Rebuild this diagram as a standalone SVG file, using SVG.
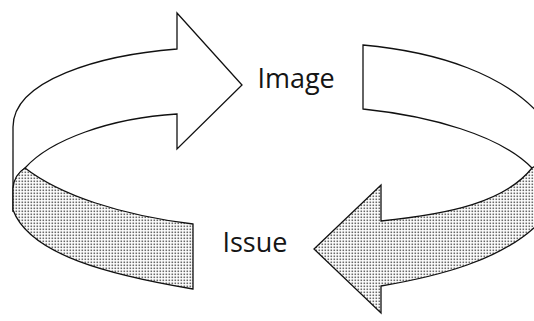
<svg xmlns="http://www.w3.org/2000/svg" width="534" height="321" viewBox="0 0 534 321">
  <defs>
    <!-- stippled screen used for the outer face of the band -->
    <pattern id="stipple" width="3" height="3" patternUnits="userSpaceOnUse">
      <rect width="3" height="3" fill="#ffffff"/>
      <rect x="0.5" y="0.5" width="1.6" height="1.6" fill="#6a6a6a"/>
    </pattern>
  </defs>
  <style>
    .band { stroke: #111; stroke-width: 1.3; stroke-linejoin: miter; }
    .inner { fill: #ffffff; }
    .outer { fill: url(#stipple); }
    .label { font-family: "Open Sans", "Liberation Sans", sans-serif; font-size: 27px; fill: #151515; }
  </style>

  <rect width="534" height="321" fill="#ffffff"/>

  <g id="connectors">
    <!-- far side of the band: white arrow pointing right -->
    <path id="arrow-top" class="band inner"
          d="M13,212 L13,127 C13,80 100,55 177,49 L177,13 L242,85 L177,149 L177,114 C110,118 50,140 25,168 Q14,176 13,190 Z"/>
    <!-- far side tail on the right -->
    <path id="tail-right" class="band inner"
          d="M363,45 C440,52 505,75 541,116 L545,172 L532,168 C500,135 430,116 363,109 Z"/>
    <!-- near side of the band, left part -->
    <path id="band-left" class="band outer"
          d="M25,168 C60,195 120,215 193,224 L193,289 C110,275 30,255 13,210 L13,188 Q14,175 25,168 Z"/>
    <!-- near side of the band: stippled arrow pointing left -->
    <path id="arrow-bottom" class="band outer"
          d="M545,160 L532,168 C505,202 450,214 381,221 L381,185 L314,249 L381,313 L381,286 C440,276 500,260 536,226 L545,215 Z"/>
  </g>

  <g id="node-image">
    <text class="label" x="257.4" y="88">Image</text>
  </g>
  <g id="node-issue">
    <text class="label" x="222.4" y="252">Issue</text>
  </g>
</svg>
